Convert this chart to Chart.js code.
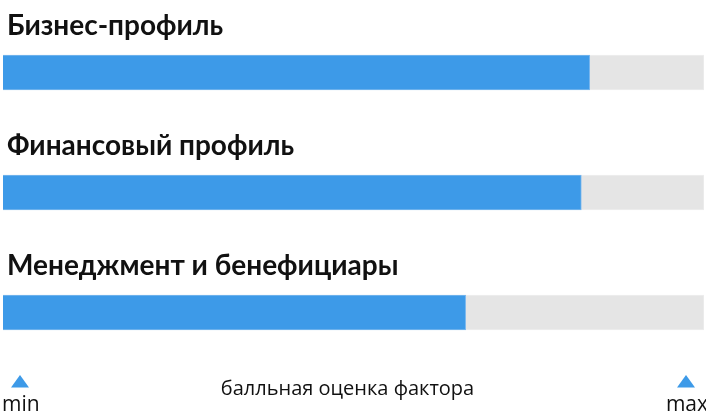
<!DOCTYPE html>
<html>
<head>
<meta charset="utf-8">
<script src="https://cdn.jsdelivr.net/npm/chart.js@4"></script>
<style>
  html, body { margin: 0; padding: 0; background: #fff; }
  #wrap { width: 706px; height: 420px; }
</style>
</head>
<body>
<div id="wrap"><canvas id="factors"></canvas></div>
<script>
// scores per factor, 0..100
const categories = ['Бизнес-профиль', 'Финансовый профиль', 'Менеджмент и бенефициары']
const scores = [83.7, 82.5, 66]
const maxScore = [100, 100, 100]
const axisTitle = 'балльная оценка фактора'
const minLabel = 'min'
const maxLabel = 'max'

const blue = '#3d9ae8'

// category names above each bar
const labelsAbove = {
  id: 'labelsAbove',
  afterDatasetsDraw(chart) {
    const { ctx, scales } = chart
    const meta = chart.getDatasetMeta(0)
    ctx.save()
    ctx.fillStyle = '#111'
    ctx.font = 'bold 28px Lato'
    ctx.textBaseline = 'alphabetic'
    ctx.textAlign = 'left'
    meta.data.forEach((bar, i) => {
      const top = bar.y - bar.height / 2
      ctx.fillText(categories[i], scales.x.left + 4, top - 20)
    })
    ctx.restore()
  }
}

// min / max markers and the axis caption
const scaleFooter = {
  id: 'scaleFooter',
  afterDraw(chart) {
    const { ctx, chartArea } = chart
    const y = chartArea.bottom
    const tri = (cx) => {
      ctx.beginPath()
      ctx.moveTo(cx - 9, y + 15)
      ctx.lineTo(cx + 9, y + 15)
      ctx.lineTo(cx, y + 2.5)
      ctx.closePath()
      ctx.fill()
    }
    ctx.save()
    ctx.fillStyle = blue
    tri(chartArea.left + 17)
    tri(chartArea.right - 18)
    ctx.fillStyle = '#111'
    ctx.font = '21px "Open Sans"'
    ctx.textBaseline = 'alphabetic'
    ctx.textAlign = 'left'
    ctx.fillText(minLabel, chartArea.left - 1, y + 38)
    ctx.textAlign = 'right'
    ctx.fillText(maxLabel, chartArea.right + 4, y + 38)
    ctx.font = '20px "Open Sans"'
    ctx.textAlign = 'center'
    ctx.fillText(axisTitle, (chartArea.left + chartArea.right) / 2 - 6, y + 22)
    ctx.restore()
  }
}

new Chart(document.getElementById('factors'), {
  type: 'bar',
  data: {
    labels: categories,
    datasets: [
      {
        data: scores,
        backgroundColor: blue,
        borderColor: '#7db9ee',
        borderWidth: 1,
        barThickness: 35,
        grouped: false,
        order: 0
      },
      {
        data: maxScore,
        backgroundColor: '#e5e5e5',
        borderColor: '#eeeeee',
        borderWidth: 1,
        barThickness: 35,
        grouped: false,
        order: 1
      }
    ]
  },
  options: {
    indexAxis: 'y',
    responsive: true,
    maintainAspectRatio: false,
    animation: false,
    layout: { padding: { left: 3, right: 2, top: 12.5, bottom: 47.5 } },
    scales: {
      x: { display: false, min: 0, max: 100 },
      y: { display: false }
    },
    plugins: {
      legend: { display: false },
      tooltip: { enabled: false }
    }
  },
  plugins: [labelsAbove, scaleFooter]
})
</script>
</body>
</html>
